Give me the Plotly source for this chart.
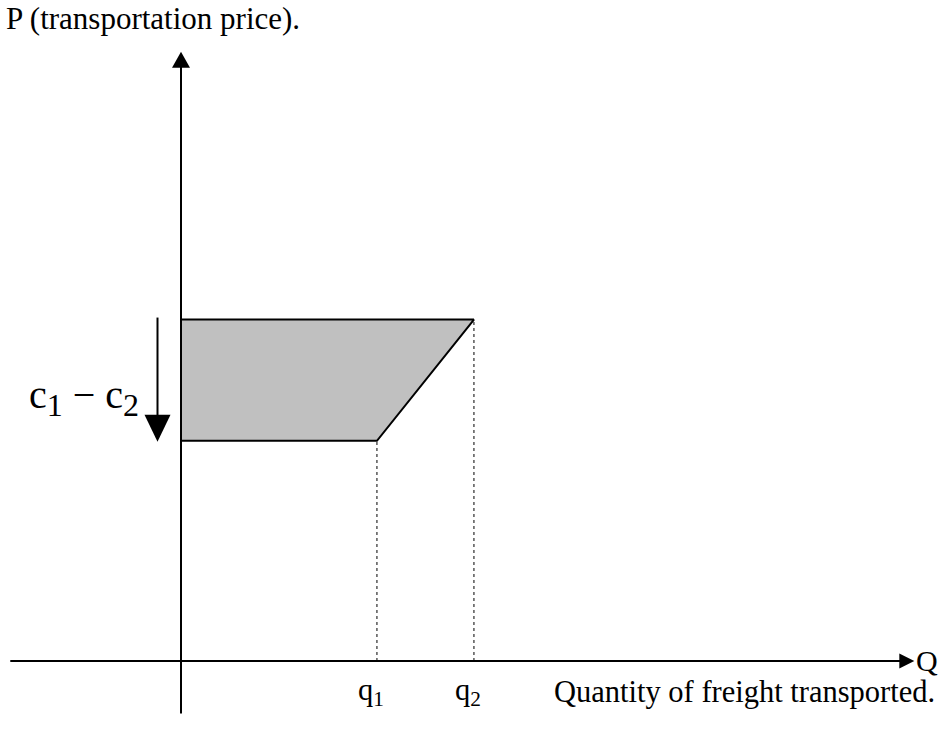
import plotly.graph_objects as go

# ---------------- data ----------------
quantities = [2.02, 3.02]                      # q1, q2
quantity_labels = ["q<sub>1</sub>", "q<sub>2</sub>"]
price_levels = [2.27, 3.52]                    # lower price (c2 level), upper price (c1 level)
x_axis_extent = [-1.76, 7.56]                  # horizontal axis: start, arrow tip
y_axis_extent = [-0.54, 6.28]                  # vertical axis: start, arrow tip
y_title = "P (transportation price)."
x_title = "Quantity of freight transported."
x_symbol = "Q"
gap_label = ("c<sub><span style='font-size:32px'>1</span></sub> − "
             "c<sub><span style='font-size:32px'>2</span></sub>")

# ---------------- layout constants ----------------
W, H = 940, 729
PX = 97.0                 # pixels per data unit
OX, OY = 181, 661         # pixel position of origin
XR = [-OX / PX, (W - OX) / PX]
YR = [-(H - OY) / PX, OY / PX]
FONT = "Liberation Serif, Times New Roman, serif"


def d(p):
    return p / PX


def triangle(tip_x, tip_y, direction, length_px, width_px):
    L, hw = d(length_px), d(width_px) / 2
    if direction == "up":
        pts = [(tip_x, tip_y), (tip_x - hw, tip_y - L), (tip_x + hw, tip_y - L)]
    elif direction == "down":
        pts = [(tip_x, tip_y), (tip_x - hw, tip_y + L), (tip_x + hw, tip_y + L)]
    else:  # right
        pts = [(tip_x, tip_y), (tip_x - L, tip_y + hw), (tip_x - L, tip_y - hw)]
    return "M " + " L ".join(f"{x},{y}" for x, y in pts) + " Z"


q1, q2 = quantities
p_lo, p_hi = price_levels

fig = go.Figure()

# shaded area
fig.add_trace(go.Scatter(
    x=[0, q2, q1, 0, 0], y=[p_hi, p_hi, p_lo, p_lo, p_hi],
    mode="lines", fill="toself", fillcolor="#c0c0c0",
    line=dict(color="black", width=2), hoverinfo="skip", showlegend=False))

shapes = []
# dotted drop lines
for q, p in zip(quantities, price_levels):
    shapes.append(dict(type="line", xref="x", yref="y", x0=q, x1=q, y0=0, y1=p,
                       line=dict(color="black", width=1, dash="dot"), layer="above"))
# axes
shapes.append(dict(type="line", xref="x", yref="y", x0=x_axis_extent[0], x1=x_axis_extent[1] - d(10),
                   y0=0, y1=0, line=dict(color="black", width=2)))
shapes.append(dict(type="line", xref="x", yref="y", x0=0, x1=0, y0=y_axis_extent[0],
                   y1=y_axis_extent[1] - d(10), line=dict(color="black", width=2)))
shapes.append(dict(type="path", xref="x", yref="y", path=triangle(0, y_axis_extent[1], "up", 16, 18),
                   fillcolor="black", line=dict(width=0)))
shapes.append(dict(type="path", xref="x", yref="y", path=triangle(x_axis_extent[1], 0, "right", 15, 15),
                   fillcolor="black", line=dict(width=0)))
# c1 - c2 arrow
ax = d(-23.5)
shapes.append(dict(type="line", xref="x", yref="y", x0=ax, x1=ax, y0=p_hi + d(2), y1=p_lo + d(15),
                   line=dict(color="black", width=2)))
shapes.append(dict(type="path", xref="x", yref="y", path=triangle(ax, p_lo - d(1), "down", 27, 26),
                   fillcolor="black", line=dict(width=0)))

annotations = [
    dict(xref="paper", yref="paper", x=4 / W, y=1 - 18 / H, xanchor="left", yanchor="middle",
         text=y_title, showarrow=False, font=dict(size=31, family=FONT, color="black")),
    dict(xref="x", yref="y", x=x_axis_extent[1] + d(0), y=d(1), xanchor="left", yanchor="middle",
         text=x_symbol, showarrow=False, font=dict(size=30, family=FONT, color="black")),
    dict(xref="x", yref="y", x=d(552 - OX), y=d(-31), xanchor="left", yanchor="middle",
         text=x_title, showarrow=False, font=dict(size=30.5, family=FONT, color="black")),
    dict(xref="x", yref="y", x=d(-40), y=(p_lo + p_hi) / 2 - d(17), xanchor="right", yanchor="middle",
         text=gap_label, showarrow=False, font=dict(size=40, family=FONT, color="black")),
]
for q, lab in zip(quantities, quantity_labels):
    annotations.append(dict(xref="x", yref="y", x=q - d(6), y=d(-31), xanchor="center", yanchor="middle",
                            text=lab, showarrow=False, font=dict(size=30.5, family=FONT, color="black")))

fig.update_layout(
    width=W, height=H, margin=dict(l=0, r=0, t=0, b=0),
    paper_bgcolor="white", plot_bgcolor="white",
    xaxis=dict(range=XR, visible=False, fixedrange=True),
    yaxis=dict(range=YR, visible=False, fixedrange=True),
    shapes=shapes, annotations=annotations, showlegend=False,
)

fig.write_html("out.html", config={"displayModeBar": False},
               post_script="document.body.style.margin='0';document.body.style.overflow='hidden';")
